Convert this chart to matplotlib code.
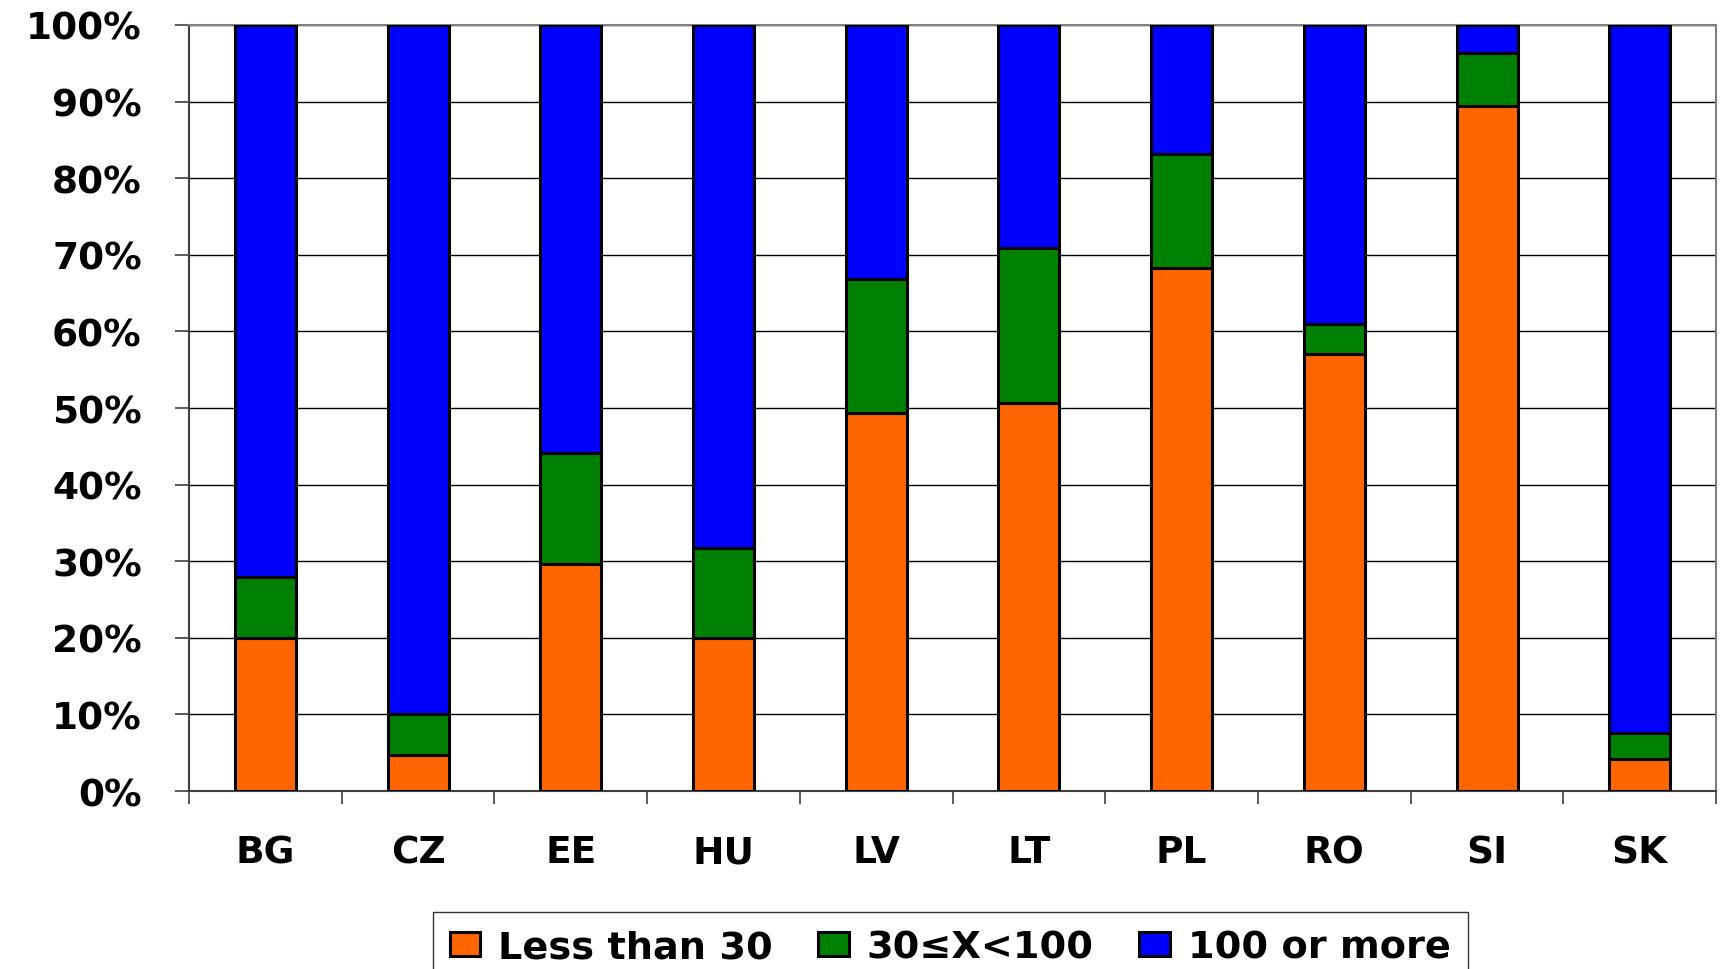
import numpy as np
import matplotlib
matplotlib.use("Agg")
from matplotlib import pyplot as plt
from matplotlib.ticker import FixedLocator, PercentFormatter

plt.rcParams['font.family'] = ['DejaVu Sans']
plt.rcParams['font.weight'] = 'bold'

countries = ["BG", "CZ", "EE", "HU", "LV", "LT", "PL", "RO", "SI", "SK"]
# share of enterprises by size class (percent)
less_30 = [20.0, 4.7, 29.7, 20.0, 49.4, 50.7, 68.3, 57.0, 89.4, 4.2]
mid_30_100 = [7.9, 5.4, 14.4, 11.7, 17.4, 20.2, 14.9, 4.0, 6.9, 3.4]
over_100 = [72.1, 89.9, 55.9, 68.3, 33.2, 29.1, 16.8, 39.0, 3.7, 92.4]

labels = ["Less than 30", "30\u2264X<100", "100 or more"]
colors = ["#FF6600", "#008000", "#0000FF"]

fig = plt.figure(figsize=(17.23, 9.70), dpi=100)
ax = fig.add_axes([0.1097, 0.1835, 0.8863, 0.7897])

x = np.arange(len(countries))
bottom = np.zeros(len(countries))
for vals, lab, col in zip([less_30, mid_30_100, over_100], labels, colors):
    ax.bar(x, vals, 0.4, bottom=bottom, color=col, edgecolor="black",
           linewidth=2.2, label=lab, zorder=3)
    bottom += np.array(vals)

ax.set_xlim(-0.5, len(countries) - 0.5)
ax.set_ylim(0, 100)
ax.yaxis.set_major_locator(FixedLocator(np.arange(0, 101, 10)))
ax.yaxis.set_major_formatter(PercentFormatter(decimals=0))
ax.grid(axis="y", color="black", linewidth=1.0, zorder=0)

ax.set_xticks(x)
ax.set_xticklabels(countries)
ax.xaxis.set_minor_locator(FixedLocator(np.arange(-0.5, len(countries), 1)))
ax.tick_params(axis="x", which="major", length=0, pad=31, labelsize=27)
ax.tick_params(axis="x", which="minor", length=9, width=1.2, color="#404040")
ax.tick_params(axis="y", length=10, width=1.2, color="#404040", pad=24, labelsize=27)

for s in ax.spines.values():
    s.set_color("#808080")
    s.set_linewidth(1.5)
ax.spines["left"].set_color("#404040")
ax.spines["bottom"].set_color("#404040")

leg = ax.legend(loc="upper center", bbox_to_anchor=(0.5514, 0.0588),
                bbox_transform=fig.transFigure, ncol=3, fontsize=27.5,
                frameon=True, fancybox=False, edgecolor="black",
                handlelength=0.79, handleheight=0.6, handletextpad=0.47,
                columnspacing=1.2, borderpad=0.45, borderaxespad=0)
leg.get_frame().set_linewidth(1.0)

fig.savefig("out.png", dpi=100)
